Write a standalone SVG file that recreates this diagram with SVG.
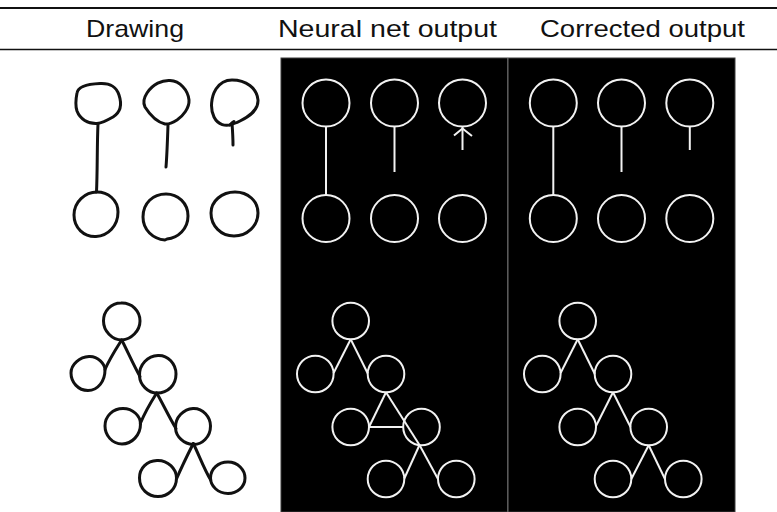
<svg xmlns="http://www.w3.org/2000/svg" width="777" height="512" viewBox="0 0 777 512">
  <style>
    .hdr { font-family: "Liberation Sans", "DejaVu Sans", sans-serif; font-size: 24px; fill: #111; text-anchor: middle; }
    .ink { fill: none; stroke: #111; stroke-width: 3; stroke-linecap: round; stroke-linejoin: round; }
    .ring { fill: none; stroke: #f2f2f2; stroke-width: 2; }
    .wire { fill: none; stroke: #f2f2f2; stroke-width: 2; stroke-linecap: butt; }
  </style>
  <defs>
    <circle id="bigRing" r="23.5" class="ring"/>
    <circle id="smallRing" r="18.3" class="ring"/>
  </defs>

  <!-- background and table rules -->
  <rect x="0" y="0" width="777" height="512" fill="#ffffff"/>
  <line x1="0" y1="8" x2="777" y2="8" stroke="#111" stroke-width="2"/>
  <line x1="0" y1="49.5" x2="777" y2="49.5" stroke="#111" stroke-width="1.5"/>

  <!-- column headings -->
  <g id="headings">
    <text class="hdr" x="135" y="37" textLength="98" lengthAdjust="spacingAndGlyphs">Drawing</text>
    <text class="hdr" x="387.5" y="37" textLength="219" lengthAdjust="spacingAndGlyphs">Neural net output</text>
    <text class="hdr" x="642.5" y="37" textLength="205" lengthAdjust="spacingAndGlyphs">Corrected output</text>
  </g>

  <!-- dark panels for rendered outputs -->
  <rect x="281" y="58" width="454" height="454" fill="#000" stroke="#3c3c3c" stroke-width="1"/>
  <line x1="507.8" y1="58" x2="507.8" y2="512" stroke="#5a5a5a" stroke-width="1.6"/>

  <!-- ===== hand drawing: grid of six nodes ===== -->
  <g id="draw-grid">
    <g id="d-a"><path class="ink" d="M77,93 C78,86 88,84 100,83.5 C110,83 116,86 119,95 C122,104 121,112 113,117 C106,121 101,123 97,123.5 C88,124 80,119 77,111 C75,105 76,98 77,93 Z"/></g>
    <g id="d-b"><path class="ink" d="M147,93 C153,84 162,80 170,80.5 C180,81 188,90 189,100 C189.5,108 183,116 177,120 C172,123 168,124.5 165,124 C157,122 150,115 145,107 C143,103 143,99 147,93 Z"/></g>
    <g id="d-c"><path class="ink" d="M232,80 C246,80 257,88 258,100 C258.5,110 250,116 240,121 C236,123 234,124 232,124 C226,127 218,125 214,117 C210,109 211,97 216,89 C220,83 226,80 232,80 Z"/></g>
    <g id="d-d"><path class="ink" d="M97,192 C108,192 118,200 118,212 C118,226 108,236 96,236.5 C84,237 74,228 74,215 C74,202 85,192 97,192 Z"/></g>
    <g id="d-e"><path class="ink" d="M166,194 C178,194 188,203 188,216 C188,229 178,238 167,239 L165,240 C153,239 143,230 143,217 C143,203 153,194 166,194 Z"/></g>
    <g id="d-f"><path class="ink" d="M235,192 C248,192 258,201 258,213 C258,226 247,236 234,236 C221,236 211,226 211,213 C211,201 222,192 235,192 Z"/></g>
  </g>

  <!-- ===== hand drawing: tree ===== -->
  <g id="draw-tree">
    <g id="t1"><path class="ink" d="M121,303 C132,302.5 140,311 140,321 C140,331 131,339.5 122,340 C112,340 103.5,331 103.5,321 C103.5,311 111,303 121,303 Z"/></g>
    <g id="t2"><path class="ink" d="M89,356.5 C98,356 105,364 105,370 C105,381 98,390.5 88,390.5 C78,390.5 71,382 71,373 C71,364 80,357 89,356.5 Z"/></g>
    <g id="t3"><path class="ink" d="M158,355.5 C168,355 176,364 176,374 C176,385 168,393 157,393 C148,393 140,385 139.5,376 C139,364 148,356 158,355.5 Z"/></g>
    <g id="t4"><path class="ink" d="M123,408.5 C133,408.5 140.5,416 140.5,424 C140.5,435 132,444 122,444 C112,444 105,435 105,426 C105,416 113,408.5 123,408.5 Z"/></g>
    <g id="t5"><path class="ink" d="M193,408.5 C203,408 210.5,417 210.5,426 C210.5,437 202,445 193,444.5 C184,444 176,437 175.5,428 C175,417 184,409 193,408.5 Z"/></g>
    <g id="t6"><path class="ink" d="M157,460.5 C168,460 176.5,469 176.5,478 C176.5,489 168,496.5 158,496.5 C148,496.5 139.5,489 139.5,478 C139.5,468 147,461 157,460.5 Z"/></g>
    <g id="t7"><path class="ink" d="M228,462 C238,462 245,470 245,478 C245,487 237,493.5 228,493.5 C218,493.5 210.5,486 210.5,478 C210.5,469 218,462 228,462 Z"/></g>
    <g class="links">
      <path class="ink" d="M121.7,340 C116,349 110,358 105,369.5"/>
      <path class="ink" d="M121.7,340 C127,350 133,364 140,376.5"/>
      <path class="ink" d="M156.7,393 C151,402 145,412 140.3,423.5"/>
      <path class="ink" d="M156.7,393 C163,404 169,417 176,428.5"/>
      <path class="ink" d="M193.3,443.5 C188,454 182,466 176.7,478.5"/>
      <path class="ink" d="M193.3,443.5 C199,455 204,469 210.7,480"/>
    </g>
  </g>
  <g id="draw-links">
    <path class="ink" d="M98,124 C97,145 97.5,170 96.5,192"/>
    <path class="ink" d="M168,125 C167.5,140 167,155 166,167"/>
    <path class="ink" d="M232,123 C232.5,130 233,138 233,145"/>
    <path class="ink" d="M230,125 L234,121.5" stroke-width="3.5"/>
  </g>

  <!-- ===== neural net output ===== -->
  <g id="net-grid">
    <g id="n-a"><use href="#bigRing" x="326" y="103"/></g>
    <g id="n-b"><use href="#bigRing" x="394.5" y="103"/></g>
    <g id="n-c"><use href="#bigRing" x="462.5" y="103"/></g>
    <g id="n-d"><use href="#bigRing" x="326" y="218.5"/></g>
    <g id="n-e"><use href="#bigRing" x="394.5" y="218.5"/></g>
    <g id="n-f"><use href="#bigRing" x="462.5" y="218.5"/></g>
  </g>
  <g id="net-tree">
    <g id="n1"><use href="#smallRing" x="350.7" y="321"/></g>
    <g id="n2"><use href="#smallRing" x="315.3" y="374"/></g>
    <g id="n3"><use href="#smallRing" x="386" y="374"/></g>
    <g id="n4"><use href="#smallRing" x="350.7" y="427"/></g>
    <g id="n5"><use href="#smallRing" x="421.5" y="427"/></g>
    <g id="n6"><use href="#smallRing" x="386" y="479"/></g>
    <g id="n7"><use href="#smallRing" x="456.3" y="479"/></g>
  </g>
  <g id="net-links">
    <line class="wire" x1="326" y1="126.5" x2="326" y2="195"/>
    <line class="wire" x1="394.5" y1="126.5" x2="394.5" y2="172"/>
    <line class="wire" x1="462.5" y1="127" x2="462.5" y2="150"/>
    <polyline class="wire" points="454,135.5 462.5,128.5 472,136"/>
    <line class="wire" x1="350.7" y1="339.3" x2="333.6" y2="373"/>
    <line class="wire" x1="350.7" y1="339.3" x2="367.8" y2="373.5"/>
    <line class="wire" x1="386" y1="392.3" x2="369" y2="427"/>
    <line class="wire" x1="386" y1="392.3" x2="419.5" y2="445"/>
    <line class="wire" x1="369" y1="427" x2="403.2" y2="427"/>
    <line class="wire" x1="419.5" y1="445" x2="404.3" y2="478.5"/>
    <line class="wire" x1="419.5" y1="445" x2="438" y2="479"/>
  </g>

  <!-- ===== corrected output ===== -->
  <g id="fix-grid">
    <g id="c-a"><use href="#bigRing" x="553.3" y="103"/></g>
    <g id="c-b"><use href="#bigRing" x="621.5" y="103"/></g>
    <g id="c-c"><use href="#bigRing" x="689.8" y="103"/></g>
    <g id="c-d"><use href="#bigRing" x="553.3" y="218.5"/></g>
    <g id="c-e"><use href="#bigRing" x="621.5" y="218.5"/></g>
    <g id="c-f"><use href="#bigRing" x="689.8" y="218.5"/></g>
  </g>
  <g id="fix-tree">
    <g id="c1"><use href="#smallRing" x="577.7" y="321"/></g>
    <g id="c2"><use href="#smallRing" x="542.3" y="374"/></g>
    <g id="c3"><use href="#smallRing" x="613" y="374"/></g>
    <g id="c4"><use href="#smallRing" x="577.7" y="427"/></g>
    <g id="c5"><use href="#smallRing" x="648.7" y="427"/></g>
    <g id="c6"><use href="#smallRing" x="613" y="479"/></g>
    <g id="c7"><use href="#smallRing" x="683.3" y="479"/></g>
  </g>
  <g id="fix-links">
    <line class="wire" x1="553.3" y1="126.5" x2="553.3" y2="195"/>
    <line class="wire" x1="621.5" y1="126.5" x2="621.5" y2="172"/>
    <line class="wire" x1="689.8" y1="126.5" x2="689.8" y2="150"/>
    <line class="wire" x1="577.7" y1="339.3" x2="560.6" y2="373"/>
    <line class="wire" x1="577.7" y1="339.3" x2="594.8" y2="374"/>
    <line class="wire" x1="613" y1="392.3" x2="596" y2="426"/>
    <line class="wire" x1="613" y1="392.3" x2="630.5" y2="427"/>
    <line class="wire" x1="648.7" y1="445.3" x2="631.3" y2="479"/>
    <line class="wire" x1="648.7" y1="445.3" x2="665.2" y2="479.5"/>
  </g>
</svg>
